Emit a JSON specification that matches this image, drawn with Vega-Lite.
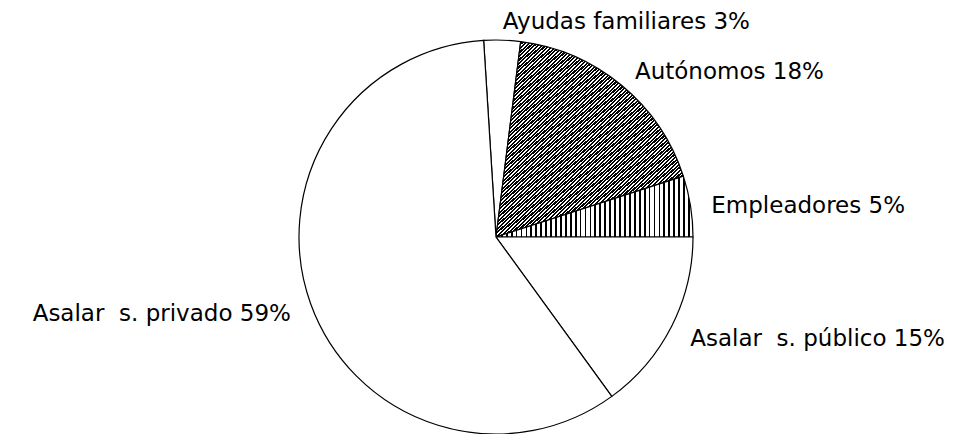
{
  "$schema": "https://vega.github.io/schema/vega-lite/v6.json",
  "width": 948,
  "height": 394,
  "autosize": {"type": "none"},
  "padding": {"left": 22, "top": 40, "right": 0, "bottom": 0},
  "background": "white",
  "config": {"view": {"stroke": null}},
  "data": {
    "values": [
      {"k": 1, "cat": "Ayudas familiares", "pct": 3, "label": "Ayudas familiares 3%"},
      {"k": 2, "cat": "Autónomos", "pct": 18, "label": "Autónomos 18%"},
      {"k": 3, "cat": "Empleadores", "pct": 5, "label": "Empleadores 5%"},
      {"k": 4, "cat": "Asalar s. público", "pct": 15, "label": "Asalar\u00a0 s. público 15%"},
      {"k": 5, "cat": "Asalar s. privado", "pct": 59, "label": "Asalar\u00a0 s. privado 59%"}
    ]
  },
  "encoding": {
    "theta": {"field": "pct", "type": "quantitative", "stack": true, "scale": {"domain": [0, 100], "range": [-0.0628, 6.2204]}},
    "order": {"field": "k", "type": "quantitative"}
  },
  "layer": [
    {
      "mark": {"type": "arc", "stroke": "black", "strokeWidth": 1.2, "outerRadius": 197},
      "encoding": {
        "fill": {
          "condition": [
            {"test": "datum.cat === 'Autónomos'", "value": {"gradient": "linear", "x1": 0, "y1": 0, "x2": 0.9, "y2": 1, "stops": [
{"offset":0,"color":"#000"},{"offset":0.006,"color":"#000"},{"offset":0.006,"color":"#fff"},{"offset":0.01,"color":"#fff"},
{"offset":0.01,"color":"#000"},{"offset":0.016,"color":"#000"},{"offset":0.016,"color":"#fff"},{"offset":0.02,"color":"#fff"},
{"offset":0.02,"color":"#000"},{"offset":0.026,"color":"#000"},{"offset":0.026,"color":"#fff"},{"offset":0.03,"color":"#fff"},
{"offset":0.03,"color":"#000"},{"offset":0.036,"color":"#000"},{"offset":0.036,"color":"#fff"},{"offset":0.04,"color":"#fff"},
{"offset":0.04,"color":"#000"},{"offset":0.046,"color":"#000"},{"offset":0.046,"color":"#fff"},{"offset":0.05,"color":"#fff"},
{"offset":0.05,"color":"#000"},{"offset":0.056,"color":"#000"},{"offset":0.056,"color":"#fff"},{"offset":0.06,"color":"#fff"},
{"offset":0.06,"color":"#000"},{"offset":0.066,"color":"#000"},{"offset":0.066,"color":"#fff"},{"offset":0.07,"color":"#fff"},
{"offset":0.07,"color":"#000"},{"offset":0.076,"color":"#000"},{"offset":0.076,"color":"#fff"},{"offset":0.08,"color":"#fff"},
{"offset":0.08,"color":"#000"},{"offset":0.086,"color":"#000"},{"offset":0.086,"color":"#fff"},{"offset":0.09,"color":"#fff"},
{"offset":0.09,"color":"#000"},{"offset":0.096,"color":"#000"},{"offset":0.096,"color":"#fff"},{"offset":0.1,"color":"#fff"},
{"offset":0.1,"color":"#000"},{"offset":0.106,"color":"#000"},{"offset":0.106,"color":"#fff"},{"offset":0.11,"color":"#fff"},
{"offset":0.11,"color":"#000"},{"offset":0.116,"color":"#000"},{"offset":0.116,"color":"#fff"},{"offset":0.12,"color":"#fff"},
{"offset":0.12,"color":"#000"},{"offset":0.126,"color":"#000"},{"offset":0.126,"color":"#fff"},{"offset":0.13,"color":"#fff"},
{"offset":0.13,"color":"#000"},{"offset":0.136,"color":"#000"},{"offset":0.136,"color":"#fff"},{"offset":0.14,"color":"#fff"},
{"offset":0.14,"color":"#000"},{"offset":0.146,"color":"#000"},{"offset":0.146,"color":"#fff"},{"offset":0.15,"color":"#fff"},
{"offset":0.15,"color":"#000"},{"offset":0.156,"color":"#000"},{"offset":0.156,"color":"#fff"},{"offset":0.16,"color":"#fff"},
{"offset":0.16,"color":"#000"},{"offset":0.166,"color":"#000"},{"offset":0.166,"color":"#fff"},{"offset":0.17,"color":"#fff"},
{"offset":0.17,"color":"#000"},{"offset":0.176,"color":"#000"},{"offset":0.176,"color":"#fff"},{"offset":0.18,"color":"#fff"},
{"offset":0.18,"color":"#000"},{"offset":0.186,"color":"#000"},{"offset":0.186,"color":"#fff"},{"offset":0.19,"color":"#fff"},
{"offset":0.19,"color":"#000"},{"offset":0.196,"color":"#000"},{"offset":0.196,"color":"#fff"},{"offset":0.2,"color":"#fff"},
{"offset":0.2,"color":"#000"},{"offset":0.206,"color":"#000"},{"offset":0.206,"color":"#fff"},{"offset":0.21,"color":"#fff"},
{"offset":0.21,"color":"#000"},{"offset":0.216,"color":"#000"},{"offset":0.216,"color":"#fff"},{"offset":0.22,"color":"#fff"},
{"offset":0.22,"color":"#000"},{"offset":0.226,"color":"#000"},{"offset":0.226,"color":"#fff"},{"offset":0.23,"color":"#fff"},
{"offset":0.23,"color":"#000"},{"offset":0.236,"color":"#000"},{"offset":0.236,"color":"#fff"},{"offset":0.24,"color":"#fff"},
{"offset":0.24,"color":"#000"},{"offset":0.246,"color":"#000"},{"offset":0.246,"color":"#fff"},{"offset":0.25,"color":"#fff"},
{"offset":0.25,"color":"#000"},{"offset":0.256,"color":"#000"},{"offset":0.256,"color":"#fff"},{"offset":0.26,"color":"#fff"},
{"offset":0.26,"color":"#000"},{"offset":0.266,"color":"#000"},{"offset":0.266,"color":"#fff"},{"offset":0.27,"color":"#fff"},
{"offset":0.27,"color":"#000"},{"offset":0.276,"color":"#000"},{"offset":0.276,"color":"#fff"},{"offset":0.28,"color":"#fff"},
{"offset":0.28,"color":"#000"},{"offset":0.286,"color":"#000"},{"offset":0.286,"color":"#fff"},{"offset":0.29,"color":"#fff"},
{"offset":0.29,"color":"#000"},{"offset":0.296,"color":"#000"},{"offset":0.296,"color":"#fff"},{"offset":0.3,"color":"#fff"},
{"offset":0.3,"color":"#000"},{"offset":0.306,"color":"#000"},{"offset":0.306,"color":"#fff"},{"offset":0.31,"color":"#fff"},
{"offset":0.31,"color":"#000"},{"offset":0.316,"color":"#000"},{"offset":0.316,"color":"#fff"},{"offset":0.32,"color":"#fff"},
{"offset":0.32,"color":"#000"},{"offset":0.326,"color":"#000"},{"offset":0.326,"color":"#fff"},{"offset":0.33,"color":"#fff"},
{"offset":0.33,"color":"#000"},{"offset":0.336,"color":"#000"},{"offset":0.336,"color":"#fff"},{"offset":0.34,"color":"#fff"},
{"offset":0.34,"color":"#000"},{"offset":0.346,"color":"#000"},{"offset":0.346,"color":"#fff"},{"offset":0.35,"color":"#fff"},
{"offset":0.35,"color":"#000"},{"offset":0.356,"color":"#000"},{"offset":0.356,"color":"#fff"},{"offset":0.36,"color":"#fff"},
{"offset":0.36,"color":"#000"},{"offset":0.366,"color":"#000"},{"offset":0.366,"color":"#fff"},{"offset":0.37,"color":"#fff"},
{"offset":0.37,"color":"#000"},{"offset":0.376,"color":"#000"},{"offset":0.376,"color":"#fff"},{"offset":0.38,"color":"#fff"},
{"offset":0.38,"color":"#000"},{"offset":0.386,"color":"#000"},{"offset":0.386,"color":"#fff"},{"offset":0.39,"color":"#fff"},
{"offset":0.39,"color":"#000"},{"offset":0.396,"color":"#000"},{"offset":0.396,"color":"#fff"},{"offset":0.4,"color":"#fff"},
{"offset":0.4,"color":"#000"},{"offset":0.406,"color":"#000"},{"offset":0.406,"color":"#fff"},{"offset":0.41,"color":"#fff"},
{"offset":0.41,"color":"#000"},{"offset":0.416,"color":"#000"},{"offset":0.416,"color":"#fff"},{"offset":0.42,"color":"#fff"},
{"offset":0.42,"color":"#000"},{"offset":0.426,"color":"#000"},{"offset":0.426,"color":"#fff"},{"offset":0.43,"color":"#fff"},
{"offset":0.43,"color":"#000"},{"offset":0.436,"color":"#000"},{"offset":0.436,"color":"#fff"},{"offset":0.44,"color":"#fff"},
{"offset":0.44,"color":"#000"},{"offset":0.446,"color":"#000"},{"offset":0.446,"color":"#fff"},{"offset":0.45,"color":"#fff"},
{"offset":0.45,"color":"#000"},{"offset":0.456,"color":"#000"},{"offset":0.456,"color":"#fff"},{"offset":0.46,"color":"#fff"},
{"offset":0.46,"color":"#000"},{"offset":0.466,"color":"#000"},{"offset":0.466,"color":"#fff"},{"offset":0.47,"color":"#fff"},
{"offset":0.47,"color":"#000"},{"offset":0.476,"color":"#000"},{"offset":0.476,"color":"#fff"},{"offset":0.48,"color":"#fff"},
{"offset":0.48,"color":"#000"},{"offset":0.486,"color":"#000"},{"offset":0.486,"color":"#fff"},{"offset":0.49,"color":"#fff"},
{"offset":0.49,"color":"#000"},{"offset":0.496,"color":"#000"},{"offset":0.496,"color":"#fff"},{"offset":0.5,"color":"#fff"},
{"offset":0.5,"color":"#000"},{"offset":0.506,"color":"#000"},{"offset":0.506,"color":"#fff"},{"offset":0.51,"color":"#fff"},
{"offset":0.51,"color":"#000"},{"offset":0.516,"color":"#000"},{"offset":0.516,"color":"#fff"},{"offset":0.52,"color":"#fff"},
{"offset":0.52,"color":"#000"},{"offset":0.526,"color":"#000"},{"offset":0.526,"color":"#fff"},{"offset":0.53,"color":"#fff"},
{"offset":0.53,"color":"#000"},{"offset":0.536,"color":"#000"},{"offset":0.536,"color":"#fff"},{"offset":0.54,"color":"#fff"},
{"offset":0.54,"color":"#000"},{"offset":0.546,"color":"#000"},{"offset":0.546,"color":"#fff"},{"offset":0.55,"color":"#fff"},
{"offset":0.55,"color":"#000"},{"offset":0.556,"color":"#000"},{"offset":0.556,"color":"#fff"},{"offset":0.56,"color":"#fff"},
{"offset":0.56,"color":"#000"},{"offset":0.566,"color":"#000"},{"offset":0.566,"color":"#fff"},{"offset":0.57,"color":"#fff"},
{"offset":0.57,"color":"#000"},{"offset":0.576,"color":"#000"},{"offset":0.576,"color":"#fff"},{"offset":0.58,"color":"#fff"},
{"offset":0.58,"color":"#000"},{"offset":0.586,"color":"#000"},{"offset":0.586,"color":"#fff"},{"offset":0.59,"color":"#fff"},
{"offset":0.59,"color":"#000"},{"offset":0.596,"color":"#000"},{"offset":0.596,"color":"#fff"},{"offset":0.6,"color":"#fff"},
{"offset":0.6,"color":"#000"},{"offset":0.606,"color":"#000"},{"offset":0.606,"color":"#fff"},{"offset":0.61,"color":"#fff"},
{"offset":0.61,"color":"#000"},{"offset":0.616,"color":"#000"},{"offset":0.616,"color":"#fff"},{"offset":0.62,"color":"#fff"},
{"offset":0.62,"color":"#000"},{"offset":0.626,"color":"#000"},{"offset":0.626,"color":"#fff"},{"offset":0.63,"color":"#fff"},
{"offset":0.63,"color":"#000"},{"offset":0.636,"color":"#000"},{"offset":0.636,"color":"#fff"},{"offset":0.64,"color":"#fff"},
{"offset":0.64,"color":"#000"},{"offset":0.646,"color":"#000"},{"offset":0.646,"color":"#fff"},{"offset":0.65,"color":"#fff"},
{"offset":0.65,"color":"#000"},{"offset":0.656,"color":"#000"},{"offset":0.656,"color":"#fff"},{"offset":0.66,"color":"#fff"},
{"offset":0.66,"color":"#000"},{"offset":0.666,"color":"#000"},{"offset":0.666,"color":"#fff"},{"offset":0.67,"color":"#fff"},
{"offset":0.67,"color":"#000"},{"offset":0.676,"color":"#000"},{"offset":0.676,"color":"#fff"},{"offset":0.68,"color":"#fff"},
{"offset":0.68,"color":"#000"},{"offset":0.686,"color":"#000"},{"offset":0.686,"color":"#fff"},{"offset":0.69,"color":"#fff"},
{"offset":0.69,"color":"#000"},{"offset":0.696,"color":"#000"},{"offset":0.696,"color":"#fff"},{"offset":0.7,"color":"#fff"},
{"offset":0.7,"color":"#000"},{"offset":0.706,"color":"#000"},{"offset":0.706,"color":"#fff"},{"offset":0.71,"color":"#fff"},
{"offset":0.71,"color":"#000"},{"offset":0.716,"color":"#000"},{"offset":0.716,"color":"#fff"},{"offset":0.72,"color":"#fff"},
{"offset":0.72,"color":"#000"},{"offset":0.726,"color":"#000"},{"offset":0.726,"color":"#fff"},{"offset":0.73,"color":"#fff"},
{"offset":0.73,"color":"#000"},{"offset":0.736,"color":"#000"},{"offset":0.736,"color":"#fff"},{"offset":0.74,"color":"#fff"},
{"offset":0.74,"color":"#000"},{"offset":0.746,"color":"#000"},{"offset":0.746,"color":"#fff"},{"offset":0.75,"color":"#fff"},
{"offset":0.75,"color":"#000"},{"offset":0.756,"color":"#000"},{"offset":0.756,"color":"#fff"},{"offset":0.76,"color":"#fff"},
{"offset":0.76,"color":"#000"},{"offset":0.766,"color":"#000"},{"offset":0.766,"color":"#fff"},{"offset":0.77,"color":"#fff"},
{"offset":0.77,"color":"#000"},{"offset":0.776,"color":"#000"},{"offset":0.776,"color":"#fff"},{"offset":0.78,"color":"#fff"},
{"offset":0.78,"color":"#000"},{"offset":0.786,"color":"#000"},{"offset":0.786,"color":"#fff"},{"offset":0.79,"color":"#fff"},
{"offset":0.79,"color":"#000"},{"offset":0.796,"color":"#000"},{"offset":0.796,"color":"#fff"},{"offset":0.8,"color":"#fff"},
{"offset":0.8,"color":"#000"},{"offset":0.806,"color":"#000"},{"offset":0.806,"color":"#fff"},{"offset":0.81,"color":"#fff"},
{"offset":0.81,"color":"#000"},{"offset":0.816,"color":"#000"},{"offset":0.816,"color":"#fff"},{"offset":0.82,"color":"#fff"},
{"offset":0.82,"color":"#000"},{"offset":0.826,"color":"#000"},{"offset":0.826,"color":"#fff"},{"offset":0.83,"color":"#fff"},
{"offset":0.83,"color":"#000"},{"offset":0.836,"color":"#000"},{"offset":0.836,"color":"#fff"},{"offset":0.84,"color":"#fff"},
{"offset":0.84,"color":"#000"},{"offset":0.846,"color":"#000"},{"offset":0.846,"color":"#fff"},{"offset":0.85,"color":"#fff"},
{"offset":0.85,"color":"#000"},{"offset":0.856,"color":"#000"},{"offset":0.856,"color":"#fff"},{"offset":0.86,"color":"#fff"},
{"offset":0.86,"color":"#000"},{"offset":0.866,"color":"#000"},{"offset":0.866,"color":"#fff"},{"offset":0.87,"color":"#fff"},
{"offset":0.87,"color":"#000"},{"offset":0.876,"color":"#000"},{"offset":0.876,"color":"#fff"},{"offset":0.88,"color":"#fff"},
{"offset":0.88,"color":"#000"},{"offset":0.886,"color":"#000"},{"offset":0.886,"color":"#fff"},{"offset":0.89,"color":"#fff"},
{"offset":0.89,"color":"#000"},{"offset":0.896,"color":"#000"},{"offset":0.896,"color":"#fff"},{"offset":0.9,"color":"#fff"},
{"offset":0.9,"color":"#000"},{"offset":0.906,"color":"#000"},{"offset":0.906,"color":"#fff"},{"offset":0.91,"color":"#fff"},
{"offset":0.91,"color":"#000"},{"offset":0.916,"color":"#000"},{"offset":0.916,"color":"#fff"},{"offset":0.92,"color":"#fff"},
{"offset":0.92,"color":"#000"},{"offset":0.926,"color":"#000"},{"offset":0.926,"color":"#fff"},{"offset":0.93,"color":"#fff"},
{"offset":0.93,"color":"#000"},{"offset":0.936,"color":"#000"},{"offset":0.936,"color":"#fff"},{"offset":0.94,"color":"#fff"},
{"offset":0.94,"color":"#000"},{"offset":0.946,"color":"#000"},{"offset":0.946,"color":"#fff"},{"offset":0.95,"color":"#fff"},
{"offset":0.95,"color":"#000"},{"offset":0.956,"color":"#000"},{"offset":0.956,"color":"#fff"},{"offset":0.96,"color":"#fff"},
{"offset":0.96,"color":"#000"},{"offset":0.966,"color":"#000"},{"offset":0.966,"color":"#fff"},{"offset":0.97,"color":"#fff"},
{"offset":0.97,"color":"#000"},{"offset":0.976,"color":"#000"},{"offset":0.976,"color":"#fff"},{"offset":0.98,"color":"#fff"},
{"offset":0.98,"color":"#000"},{"offset":0.986,"color":"#000"},{"offset":0.986,"color":"#fff"},{"offset":0.99,"color":"#fff"},
{"offset":0.99,"color":"#000"},{"offset":0.996,"color":"#000"},{"offset":0.996,"color":"#fff"},{"offset":1,"color":"#fff"}
            ]}},
            {"test": "datum.cat === 'Empleadores'", "value": {"gradient": "linear", "x1": 0, "y1": 0, "x2": 1, "y2": 0, "stops": [
{"offset":0,"color":"#000"},{"offset":0.009,"color":"#000"},{"offset":0.009,"color":"#fff"},{"offset":0.025,"color":"#fff"},
{"offset":0.025,"color":"#000"},{"offset":0.034,"color":"#000"},{"offset":0.034,"color":"#fff"},{"offset":0.05,"color":"#fff"},
{"offset":0.05,"color":"#000"},{"offset":0.059,"color":"#000"},{"offset":0.059,"color":"#fff"},{"offset":0.075,"color":"#fff"},
{"offset":0.075,"color":"#000"},{"offset":0.084,"color":"#000"},{"offset":0.084,"color":"#fff"},{"offset":0.1,"color":"#fff"},
{"offset":0.1,"color":"#000"},{"offset":0.109,"color":"#000"},{"offset":0.109,"color":"#fff"},{"offset":0.125,"color":"#fff"},
{"offset":0.125,"color":"#000"},{"offset":0.134,"color":"#000"},{"offset":0.134,"color":"#fff"},{"offset":0.15,"color":"#fff"},
{"offset":0.15,"color":"#000"},{"offset":0.159,"color":"#000"},{"offset":0.159,"color":"#fff"},{"offset":0.175,"color":"#fff"},
{"offset":0.175,"color":"#000"},{"offset":0.184,"color":"#000"},{"offset":0.184,"color":"#fff"},{"offset":0.2,"color":"#fff"},
{"offset":0.2,"color":"#000"},{"offset":0.209,"color":"#000"},{"offset":0.209,"color":"#fff"},{"offset":0.225,"color":"#fff"},
{"offset":0.225,"color":"#000"},{"offset":0.234,"color":"#000"},{"offset":0.234,"color":"#fff"},{"offset":0.25,"color":"#fff"},
{"offset":0.25,"color":"#000"},{"offset":0.259,"color":"#000"},{"offset":0.259,"color":"#fff"},{"offset":0.275,"color":"#fff"},
{"offset":0.275,"color":"#000"},{"offset":0.284,"color":"#000"},{"offset":0.284,"color":"#fff"},{"offset":0.3,"color":"#fff"},
{"offset":0.3,"color":"#000"},{"offset":0.309,"color":"#000"},{"offset":0.309,"color":"#fff"},{"offset":0.325,"color":"#fff"},
{"offset":0.325,"color":"#000"},{"offset":0.334,"color":"#000"},{"offset":0.334,"color":"#fff"},{"offset":0.35,"color":"#fff"},
{"offset":0.35,"color":"#000"},{"offset":0.359,"color":"#000"},{"offset":0.359,"color":"#fff"},{"offset":0.375,"color":"#fff"},
{"offset":0.375,"color":"#000"},{"offset":0.384,"color":"#000"},{"offset":0.384,"color":"#fff"},{"offset":0.4,"color":"#fff"},
{"offset":0.4,"color":"#000"},{"offset":0.409,"color":"#000"},{"offset":0.409,"color":"#fff"},{"offset":0.425,"color":"#fff"},
{"offset":0.425,"color":"#000"},{"offset":0.434,"color":"#000"},{"offset":0.434,"color":"#fff"},{"offset":0.45,"color":"#fff"},
{"offset":0.45,"color":"#000"},{"offset":0.459,"color":"#000"},{"offset":0.459,"color":"#fff"},{"offset":0.475,"color":"#fff"},
{"offset":0.475,"color":"#000"},{"offset":0.484,"color":"#000"},{"offset":0.484,"color":"#fff"},{"offset":0.5,"color":"#fff"},
{"offset":0.5,"color":"#000"},{"offset":0.509,"color":"#000"},{"offset":0.509,"color":"#fff"},{"offset":0.525,"color":"#fff"},
{"offset":0.525,"color":"#000"},{"offset":0.534,"color":"#000"},{"offset":0.534,"color":"#fff"},{"offset":0.55,"color":"#fff"},
{"offset":0.55,"color":"#000"},{"offset":0.559,"color":"#000"},{"offset":0.559,"color":"#fff"},{"offset":0.575,"color":"#fff"},
{"offset":0.575,"color":"#000"},{"offset":0.584,"color":"#000"},{"offset":0.584,"color":"#fff"},{"offset":0.6,"color":"#fff"},
{"offset":0.6,"color":"#000"},{"offset":0.609,"color":"#000"},{"offset":0.609,"color":"#fff"},{"offset":0.625,"color":"#fff"},
{"offset":0.625,"color":"#000"},{"offset":0.634,"color":"#000"},{"offset":0.634,"color":"#fff"},{"offset":0.65,"color":"#fff"},
{"offset":0.65,"color":"#000"},{"offset":0.659,"color":"#000"},{"offset":0.659,"color":"#fff"},{"offset":0.675,"color":"#fff"},
{"offset":0.675,"color":"#000"},{"offset":0.684,"color":"#000"},{"offset":0.684,"color":"#fff"},{"offset":0.7,"color":"#fff"},
{"offset":0.7,"color":"#000"},{"offset":0.709,"color":"#000"},{"offset":0.709,"color":"#fff"},{"offset":0.725,"color":"#fff"},
{"offset":0.725,"color":"#000"},{"offset":0.734,"color":"#000"},{"offset":0.734,"color":"#fff"},{"offset":0.75,"color":"#fff"},
{"offset":0.75,"color":"#000"},{"offset":0.759,"color":"#000"},{"offset":0.759,"color":"#fff"},{"offset":0.775,"color":"#fff"},
{"offset":0.775,"color":"#000"},{"offset":0.784,"color":"#000"},{"offset":0.784,"color":"#fff"},{"offset":0.8,"color":"#fff"},
{"offset":0.8,"color":"#000"},{"offset":0.809,"color":"#000"},{"offset":0.809,"color":"#fff"},{"offset":0.825,"color":"#fff"},
{"offset":0.825,"color":"#000"},{"offset":0.834,"color":"#000"},{"offset":0.834,"color":"#fff"},{"offset":0.85,"color":"#fff"},
{"offset":0.85,"color":"#000"},{"offset":0.859,"color":"#000"},{"offset":0.859,"color":"#fff"},{"offset":0.875,"color":"#fff"},
{"offset":0.875,"color":"#000"},{"offset":0.884,"color":"#000"},{"offset":0.884,"color":"#fff"},{"offset":0.9,"color":"#fff"},
{"offset":0.9,"color":"#000"},{"offset":0.909,"color":"#000"},{"offset":0.909,"color":"#fff"},{"offset":0.925,"color":"#fff"},
{"offset":0.925,"color":"#000"},{"offset":0.934,"color":"#000"},{"offset":0.934,"color":"#fff"},{"offset":0.95,"color":"#fff"},
{"offset":0.95,"color":"#000"},{"offset":0.959,"color":"#000"},{"offset":0.959,"color":"#fff"},{"offset":0.975,"color":"#fff"},
{"offset":0.975,"color":"#000"},{"offset":0.984,"color":"#000"},{"offset":0.984,"color":"#fff"},{"offset":1,"color":"#fff"}
            ]}}
          ],
          "value": "white"
        }
      }
    },
    {
      "mark": {"type": "text", "radius": 218, "align": "left", "baseline": "middle", "dy": 3, "font": "DejaVu Sans", "fontSize": 23, "color": "black"},
      "encoding": {
        "text": {"field": "label", "type": "nominal", "condition": {"test": "datum.cat === 'Asalar s. privado'", "value": ""}}
      }
    },
    {
      "mark": {"type": "text", "radius": 218, "align": "right", "baseline": "middle", "dy": 3, "font": "DejaVu Sans", "fontSize": 23, "color": "black"},
      "encoding": {
        "text": {"field": "label", "type": "nominal", "condition": {"test": "datum.cat !== 'Asalar s. privado'", "value": ""}}
      }
    }
  ]
}
